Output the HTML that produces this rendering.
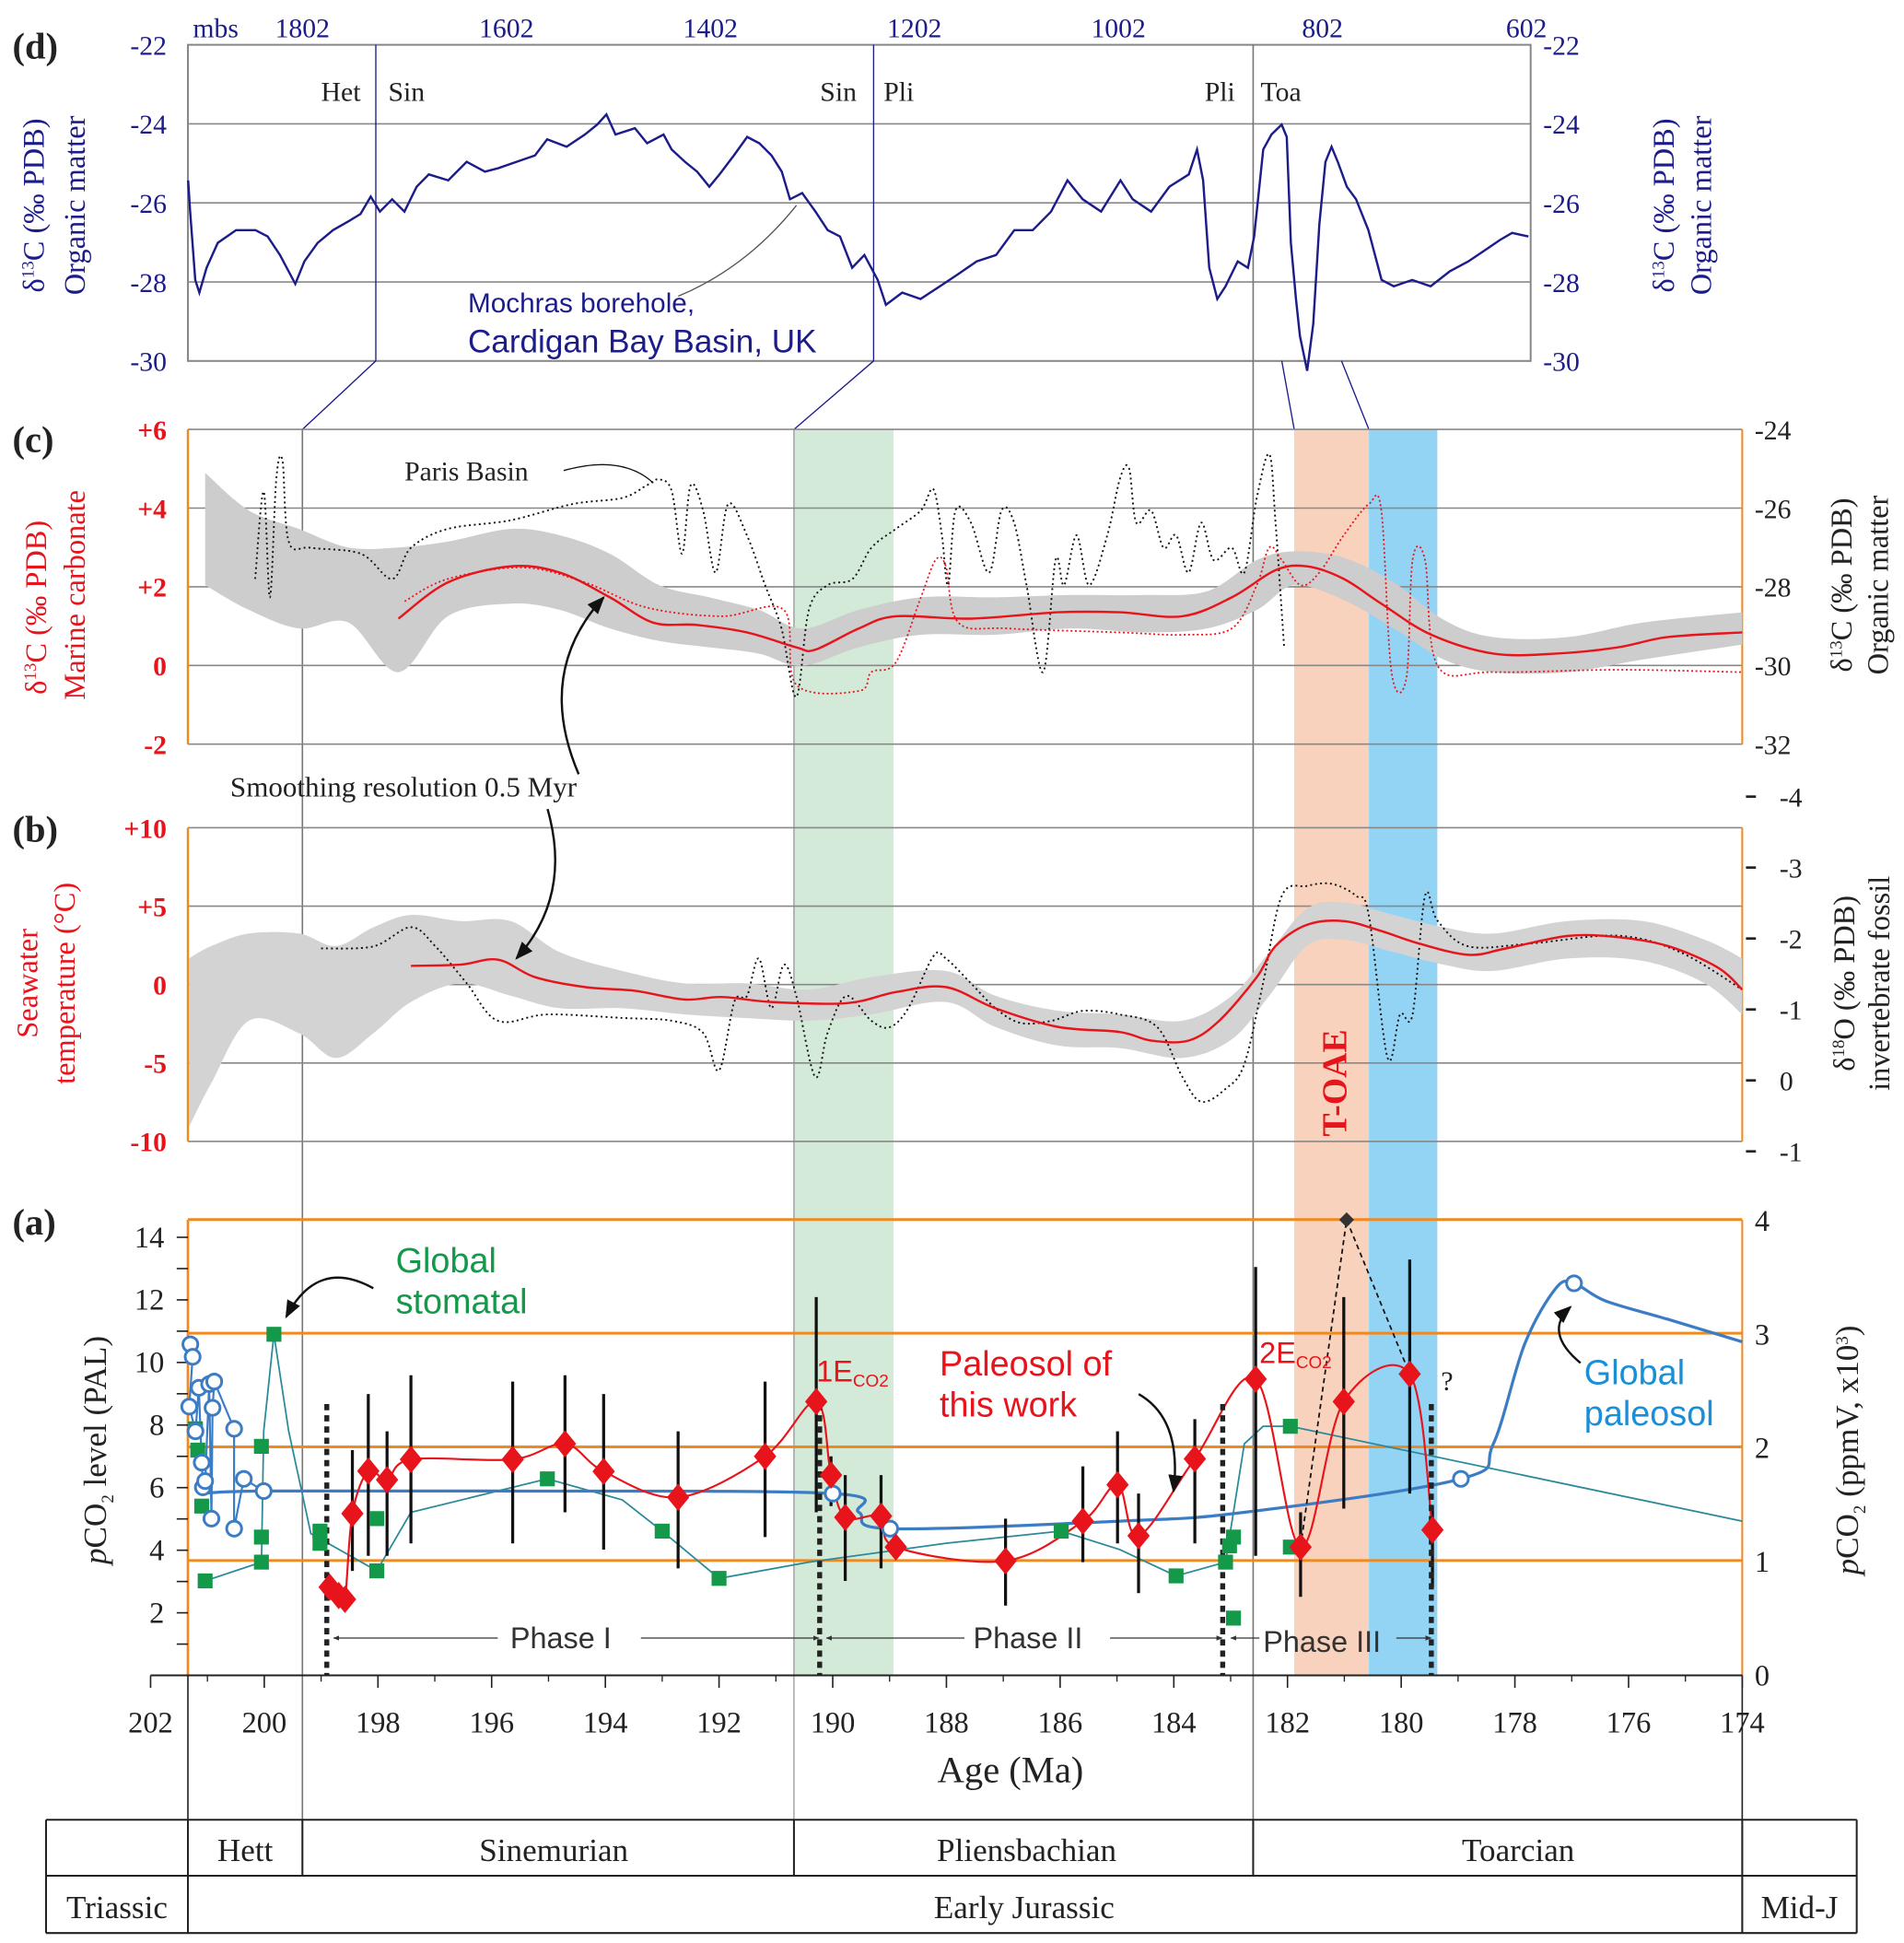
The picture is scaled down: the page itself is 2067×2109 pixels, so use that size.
<!DOCTYPE html>
<html><head><meta charset="utf-8"><style>
html,body{margin:0;padding:0;background:#fff}
svg{display:block}
.sf{font-family:"Liberation Serif",serif}
.ss{font-family:"Liberation Sans",sans-serif}
</style></head><body>
<svg id="fig" xmlns="http://www.w3.org/2000/svg" width="2067" height="2109" viewBox="0 0 1530 1561" preserveAspectRatio="none">
<defs>
<marker id="ah" viewBox="0 0 10 10" refX="9" refY="5" markerWidth="8" markerHeight="8" orient="auto"><path d="M0,1 L10,5 L0,9 z" fill="#111"/></marker>
<marker id="ahs" viewBox="0 0 10 10" refX="9" refY="5" markerWidth="5" markerHeight="5" orient="auto"><path d="M0,1 L10,5 L0,9 z" fill="#333"/></marker>
<clipPath id="clipCB"><rect x="151" y="330" width="1249" height="610"/></clipPath>
</defs>
<g id="bands"></g>
<g id="grid"></g>
<g id="series"></g>
<g id="labels"></g>
</svg>
<script>
// ---------- DATA ----------
const dDepth=[1914,1912,1907,1903,1896,1885,1867,1848,1836,1824,1809,1800,1787,1772,1757,1745,1735,1726,1714,1702,1690,1678,1659,1641,1623,1610,1592,1574,1562,1543,1525,1513,1504,1495,1476,1464,1448,1440,1427,1415,1403,1393,1379,1366,1354,1342,1332,1324,1312,1299,1287,1275,1263,1251,1238,1230,1214,1196,1177,1159,1141,1122,1104,1086,1068,1052,1037,1019,1000,988,970,952,933,925,919,913,905,897,885,875,869,860,852,842,837,833,828,824,817,811,805,799,793,787,778,769,757,744,732,714,696,677,659,641,628,616,600];
const dD13C=[-25.43,-26.22,-27.95,-28.27,-27.64,-27.01,-26.69,-26.69,-26.85,-27.32,-28.05,-27.48,-27.01,-26.69,-26.47,-26.28,-25.84,-26.22,-25.91,-26.22,-25.59,-25.28,-25.43,-24.96,-25.21,-25.12,-24.96,-24.80,-24.39,-24.58,-24.27,-24.02,-23.76,-24.27,-24.11,-24.49,-24.27,-24.65,-24.96,-25.21,-25.59,-25.28,-24.80,-24.33,-24.49,-24.80,-25.21,-25.91,-25.75,-26.22,-26.69,-26.85,-27.64,-27.32,-27.95,-28.58,-28.27,-28.43,-28.11,-27.80,-27.48,-27.32,-26.69,-26.69,-26.22,-25.43,-25.91,-26.22,-25.43,-25.91,-26.22,-25.59,-25.28,-24.65,-25.43,-27.64,-28.43,-28.11,-27.48,-27.64,-26.85,-24.65,-24.27,-24.02,-24.33,-27.01,-28.43,-29.37,-30.25,-29.06,-26.54,-24.96,-24.58,-24.96,-25.59,-25.91,-26.69,-27.95,-28.11,-27.95,-28.11,-27.73,-27.48,-27.17,-26.94,-26.76,-26.85];
const dTopTicks=[1802,1602,1402,1202,1002,802,602];
const dYTicks=[-22,-24,-26,-28,-30];
const cRedAge=[197.64,196.77,195.67,194.80,193.92,193.16,192.39,191.51,190.64,190.31,189.54,188.89,187.57,186.04,184.95,183.85,182.98,182.21,181.66,181.01,180.35,179.47,178.38,177.28,176.19,175.31,174.0];
const cRedVal=[1.19,2.11,2.52,2.36,1.73,1.09,1.03,0.84,0.46,0.40,0.94,1.25,1.19,1.35,1.35,1.25,1.73,2.42,2.52,2.20,1.57,0.78,0.30,0.30,0.46,0.72,0.84];
const cBandAge=[201.04,200.27,199.39,198.52,197.64,196.77,195.67,194.80,193.92,193.05,192.17,191.30,190.53,189.54,188.45,187.14,185.82,184.51,183.41,182.54,181.88,181.01,180.13,179.25,178.38,177.07,175.75,174.0];
const cBandHi=[4.9,3.94,3.47,3.0,3.0,3.15,3.47,3.31,2.84,2.04,1.73,1.41,0.94,1.41,1.73,1.73,1.79,1.79,1.89,2.68,2.90,2.74,2.11,1.16,0.72,0.72,1.09,1.35];
const cBandLo=[2.04,1.41,0.94,1.09,-0.17,1.25,1.57,1.41,0.94,0.62,0.46,0.30,-0.01,0.46,0.78,0.78,0.94,0.84,0.94,1.41,2.04,1.66,0.94,0.15,-0.17,-0.17,0.15,0.53];
const cDotAge=[197.53,196.77,195.45,194.36,193.27,191.95,190.86,190.64,189.54,189.32,188.89,188.45,188.19,188.01,187.79,186.92,184.95,183.85,182.98,182.54,182.32,182.10,181.77,181.44,181.01,180.57,180.35,180.17,179.91,179.80,179.58,179.36,178.38,176.19,174.0];
const cDotVal=[1.63,2.20,2.49,2.11,1.47,1.25,1.41,-0.49,-0.65,-0.17,0.08,1.73,2.68,2.52,1.09,0.94,0.84,0.78,0.94,2.04,3.0,2.68,2.04,2.36,3.31,4.10,3.94,-0.17,-0.33,2.68,2.68,-0.01,-0.17,-0.11,-0.17];
const cParisAge=[200.16,200.01,199.90,199.79,199.68,199.57,199.18,198.30,197.75,197.42,196.77,195.67,194.58,193.70,193.27,193.05,192.83,192.65,192.50,192.28,192.06,191.84,191.51,191.19,190.90,190.64,190.42,190.09,189.65,189.32,188.89,188.45,188.23,188.08,187.97,187.84,187.57,187.25,187.03,186.81,186.59,186.30,186.08,185.93,185.71,185.49,185.17,184.95,184.79,184.66,184.40,184.18,183.96,183.74,183.52,183.30,182.98,182.76,182.54,182.32,182.21,182.06];
const cParisVal=[-27.80,-25.58,-28.27,-25.27,-24.79,-26.85,-27.01,-27.16,-27.80,-27.01,-26.53,-26.31,-25.90,-25.74,-25.42,-25.27,-25.58,-27.16,-25.42,-26.06,-27.64,-25.90,-26.69,-27.96,-29.06,-30.80,-28.59,-27.96,-27.80,-27.01,-26.53,-26.06,-25.52,-26.69,-27.96,-26.06,-26.37,-27.64,-26.06,-26.37,-27.96,-30.17,-27.32,-27.96,-26.69,-27.96,-26.69,-25.27,-24.98,-26.37,-26.06,-27.01,-26.69,-27.64,-26.37,-27.32,-27.01,-27.64,-25.74,-24.63,-26.37,-29.54];
const cLeftTicks=[6,4,2,0,-2];
const cRightTicks=[-24,-26,-28,-30,-32];
const bRedAge=[197.42,196.55,195.89,195.24,194.36,193.48,192.61,191.95,191.08,189.76,188.89,188.01,187.14,186.04,184.95,184.40,183.74,183.20,182.54,182.21,181.66,181.01,180.35,179.69,178.82,178.16,177.07,176.19,175.31,174.44,174.0];
const bRedVal=[1.19,1.27,1.59,0.48,-0.16,-0.40,-0.95,-0.79,-1.11,-1.19,-0.48,-0.16,-1.51,-2.70,-3.02,-3.57,-3.57,-2.30,0.48,2.46,3.81,4.05,3.41,2.62,1.90,2.30,3.10,3.02,2.46,1.11,-0.32];
const bBandAge=[201.32,200.93,200.27,199.39,198.74,198.08,197.42,196.55,195.67,194.80,193.70,192.61,191.51,190.42,189.32,188.01,187.14,186.04,184.95,183.85,182.98,182.32,181.66,181.01,180.13,179.25,178.38,177.07,175.75,174.66,174.0];
const bBandHi=[1.67,2.46,3.25,3.25,2.46,3.65,4.44,4.05,4.05,2.06,0.87,0.08,0.08,-0.32,0.48,0.87,-0.71,-1.67,-1.90,-2.30,-0.71,2.06,4.84,5.24,4.44,3.65,3.25,4.05,4.05,2.86,1.67];
const bBandLo=[-9.05,-6.27,-2.30,-3.10,-4.68,-3.10,-1.11,0.08,-0.71,-1.51,-1.51,-1.90,-2.14,-2.30,-1.90,-1.11,-2.70,-3.89,-4.05,-4.68,-3.49,-0.71,2.46,2.86,2.06,1.27,0.87,1.67,1.51,0.08,-1.90];
const bDotAge=[199.0,198.08,197.42,196.99,196.44,195.89,195.02,193.70,192.83,192.28,192.0,191.73,191.51,191.30,191.08,190.86,190.64,190.31,190.09,189.76,189.32,189.0,188.67,188.23,188.01,187.57,187.14,186.70,186.15,185.60,184.95,184.29,183.85,183.52,183.09,182.76,182.43,182.10,181.66,181.22,180.79,180.57,180.24,180.02,179.80,179.58,179.36,178.82,177.72,176.19,175.10,174.0];
const bDotVal=[-1.86,-1.89,-2.16,-1.89,-1.37,-0.84,-0.93,-0.88,-0.84,-0.67,-0.14,-1.11,-1.19,-1.72,-1.02,-1.63,-1.19,-0.05,-0.67,-1.19,-0.84,-0.75,-1.02,-1.75,-1.72,-1.37,-1.02,-0.81,-0.84,-0.98,-0.93,-0.75,-0.05,0.30,0.12,-0.23,-1.37,-2.60,-2.74,-2.77,-2.60,-2.33,-0.32,-0.93,-0.93,-2.60,-2.25,-1.89,-1.93,-2.04,-1.81,-1.28];
const bLeftTicks=[10,5,0,-5,-10];
const bLeftLabels=["+10","+5","0","-5","-10"];
const bRightTicks=[-4,-3,-2,-1,0,1];
const bRightLabels=["-4","-3","-2","-1","0","-1"];
const aRedAge=[198.85,198.69,198.58,198.45,198.17,197.84,197.42,195.63,194.71,194.03,192.72,191.19,190.29,190.03,189.78,189.15,188.89,186.96,185.60,184.99,184.62,183.63,182.56,181.77,181.01,179.85,179.45];
const aRedVal=[2.82,2.55,2.43,5.17,6.53,6.25,6.90,6.90,7.40,6.52,5.69,7.00,8.75,6.40,5.05,5.09,4.10,3.66,4.93,6.09,4.46,6.92,9.47,4.10,8.75,9.63,4.65];
const aErrHi=[null,null,null,7.20,8.99,7.80,9.59,9.39,9.59,8.99,7.80,9.39,12.09,7.00,6.40,6.40,null,5.01,6.68,7.80,5.81,8.19,13.05,5.21,12.09,13.29,5.41];
const aErrLo=[null,null,null,3.34,3.82,3.82,4.22,4.22,5.21,4.02,3.42,4.42,5.21,5.41,3.02,3.42,null,2.23,3.62,4.22,2.63,4.22,3.82,2.51,5.33,5.81,2.82];
const aStomAge=[201.21,201.17,201.10,201.04,200.05,200.05,200.05,199.83,199.02,199.02,198.02,198.02,195.02,193.0,192.0,185.98,183.96,183.09,183.02,182.95,182.95,181.95,181.95];
const aStomVal=[7.88,7.20,5.41,3.02,3.62,4.42,7.32,10.90,4.61,4.22,5.01,3.34,6.28,4.61,3.10,4.61,3.18,3.62,4.14,4.42,1.83,7.96,4.10];
const aStomFitAge=[201.04,200.05,200.01,199.83,199.57,199.18,198.02,197.42,195.02,193.70,193.0,192.0,190.42,188.01,185.98,184.95,183.96,183.09,182.76,182.43,181.95,174.0];
const aStomFitVal=[3.02,3.62,7.80,10.90,7.80,4.53,3.34,5.21,6.28,5.61,4.61,3.10,3.62,4.22,4.61,4.02,3.18,3.62,7.40,7.96,7.96,4.93];
const aPaleoAge=[201.30,201.26,201.32,201.21,201.15,201.10,201.08,201.04,200.97,200.93,200.91,200.88,200.53,200.53,200.36,200.01,190.0,188.99,178.95,176.96];
const aPaleoVal=[10.58,10.18,8.59,7.80,9.19,6.80,6.01,6.21,9.31,5.01,8.55,9.39,7.88,4.69,6.28,5.89,5.81,4.69,6.28,12.53];
const aPaleoFitAge=[201.15,200.01,195.89,190.0,189.54,188.99,184.95,182.76,178.95,178.38,177.83,177.28,176.96,176.41,175.31,174.0];
const aPaleoFitVal=[5.81,5.89,5.89,5.81,5.21,4.69,4.93,5.21,6.28,7.40,10.58,12.37,12.53,11.97,11.38,10.66];
const aOutlierAge=[181.77,180.96,179.85];
const aOutlierVal=[4.10,14.56,9.63];
const aLeftTicks=[14,12,10,8,6,4,2];
const aRightTicks=[4,3,2,1,0];
const xTicks=[202,200,198,196,194,192,190,188,186,184,182,180,178,176,174];

const ax=a=>121+(202-a)*45.68;
const dx=d=>243+(1802-d)/1.22;
const dy=v=>36+(-22-v)*31.75;
const cy=v=>345+(6-v)*31.6;
const cyr=v=>345+(-24-v)*31.6;
const by=v=>791-v*12.6;
const byr=v=>868+v*57;
const ay=v=>1346-v*25.14;
const ayr=v=>1345-v*91.3;

const NS="http://www.w3.org/2000/svg";
function mk(parent,tag,attrs,text){const e=document.createElementNS(NS,tag);for(const k in attrs)e.setAttribute(k,attrs[k]);if(text!==undefined)e.textContent=text;document.getElementById(parent).appendChild(e);return e;}
function poly(xs,ys){return xs.map((x,i)=>(i?'L':'M')+x.toFixed(1)+','+ys[i].toFixed(1)).join(' ');}
function spline(xs,ys){let d='M'+xs[0]+','+ys[0];for(let i=0;i<xs.length-1;i++){const x0=xs[Math.max(i-1,0)],y0=ys[Math.max(i-1,0)],x1=xs[i],y1=ys[i],x2=xs[i+1],y2=ys[i+1],x3=xs[Math.min(i+2,xs.length-1)],y3=ys[Math.min(i+2,xs.length-1)];d+=` C${(x1+(x2-x0)/6).toFixed(1)},${(y1+(y2-y0)/6).toFixed(1)} ${(x2-(x3-x1)/6).toFixed(1)},${(y2-(y3-y1)/6).toFixed(1)} ${x2.toFixed(1)},${y2.toFixed(1)}`;}return d;}
function txt(x,y,s,cls,size,fill,anchor,extra){const e=mk('labels','text',Object.assign({x:x,y:y,class:cls,'font-size':size,fill:fill,'text-anchor':anchor||'start'},extra||{}),s);return e;}

const NAVY='#1c1c8a', RED='#e8141c', OR='#f0891e', GR='#888';

let e;
e=mk('bands','rect',{x:638,y:345,width:80,height:1001,fill:'#d3ead8'});

e=mk('bands','rect',{x:1040,y:345,width:60,height:1001,fill:'#f9d2bd'});

e=mk('bands','rect',{x:1100,y:345,width:55,height:1001,fill:'#93d3f3'});


e=mk('grid','rect',{x:151,y:36,width:1079,height:254,fill:'none',stroke:GR,'stroke-width':1.5});

[-24,-26,-28].forEach(v=>{e=mk('grid','line',{x1:151,x2:1230,y1:dy(v),y2:dy(v),stroke:GR,'stroke-width':1.2});});
[[302,36,302,290],[702,36,702,290]].forEach(p=>{e=mk('grid','line',{x1:p[0],y1:p[1],x2:p[2],y2:p[3],stroke:NAVY,'stroke-width':1});});
e=mk('grid','line',{x1:1007,y1:36,x2:1007,y2:1507,stroke:'#777','stroke-width':1.2});
[[302,290,243,345],[702,290,638,345],[1030,290,1040,345],[1078,290,1100,345]].forEach(p=>{e=mk('grid','line',{x1:p[0],y1:p[1],x2:p[2],y2:p[3],stroke:NAVY,'stroke-width':1});});
e=mk('grid','line',{x1:243,y1:345,x2:243,y2:1507,stroke:'#777','stroke-width':1.2});
e=mk('grid','line',{x1:638,y1:345,x2:638,y2:1507,stroke:'#999','stroke-width':1});

[6,4,2,0,-2].forEach(v=>{e=mk('grid','line',{x1:151,x2:1400,y1:cy(v),y2:cy(v),stroke:GR,'stroke-width':1.2});});
e=mk('grid','line',{x1:151,x2:151,y1:345,y2:598,stroke:OR,'stroke-width':1.8});
e=mk('grid','line',{x1:1400,x2:1400,y1:345,y2:598,stroke:OR,'stroke-width':1.5});
[10,5,0,-5,-10].forEach(v=>{e=mk('grid','line',{x1:151,x2:1400,y1:by(v),y2:by(v),stroke:GR,'stroke-width':1.2});});
e=mk('grid','line',{x1:151,x2:151,y1:665,y2:917,stroke:OR,'stroke-width':1.8});
e=mk('grid','line',{x1:1400,x2:1400,y1:665,y2:917,stroke:OR,'stroke-width':1.5});

[4,3,2,1].forEach(v=>{e=mk('grid','line',{x1:151,x2:1400,y1:ayr(v),y2:ayr(v),stroke:OR,'stroke-width':2.2});});
e=mk('grid','line',{x1:151,x2:151,y1:980,y2:1346,stroke:OR,'stroke-width':2});
e=mk('grid','line',{x1:1400,x2:1400,y1:980,y2:1346,stroke:OR,'stroke-width':1.5});
e=mk('grid','line',{x1:121,x2:1400,y1:1346,y2:1346,stroke:'#222','stroke-width':1.5});
e=mk('grid','line',{x1:151,x2:151,y1:1346,y2:1553,stroke:'#222','stroke-width':1.2});
e=mk('grid','line',{x1:1400,x2:1400,y1:1346,y2:1553,stroke:'#222','stroke-width':1.2});
for(let v=1;v<=14;v++){e=mk('grid','line',{x1:142,x2:151,y1:ay(v),y2:ay(v),stroke:'#222','stroke-width':1.2});}
xTicks.forEach(a=>{e=mk('grid','line',{x1:ax(a),x2:ax(a),y1:1346,y2:1356,stroke:'#222','stroke-width':1.2});});
for(let a=201;a>174;a-=2){e=mk('grid','line',{x1:ax(a),x2:ax(a),y1:1346,y2:1351,stroke:'#222','stroke-width':1});}

e=mk('series','path',{d:poly(dDepth.map(dx),dD13C.map(dy)),fill:'none',stroke:NAVY,'stroke-width':1.8});

const gC=mk('series','g',{'clip-path':'url(#clipCB)'});

function add(g,tag,attrs,name){const el=document.createElementNS(NS,tag);for(const k in attrs)el.setAttribute(k,attrs[k]);g.appendChild(el);return el;}
{const xs=cBandAge.map(ax);const hi=cBandHi.map(cy),lo=cBandLo.map(cy);
add(gC,'path',{d:spline(xs,hi)+' L'+spline(xs.slice().reverse(),lo.slice().reverse()).slice(1)+' Z',fill:'#cdcdcd',stroke:'none'},'panel-c-gray-envelope');}
add(gC,'path',{d:spline(cParisAge.map(ax),cParisVal.map(cyr)),fill:'none',stroke:'#111','stroke-width':1.4,'stroke-dasharray':'1.5,2.5'},'paris-basin-dotted');
add(gC,'path',{d:spline(cDotAge.map(ax),cDotVal.map(cy)),fill:'none',stroke:RED,'stroke-width':1.3,'stroke-dasharray':'1.5,2'},'marine-carbonate-dotted');
add(gC,'path',{d:spline(cRedAge.map(ax),cRedVal.map(cy)),fill:'none',stroke:RED,'stroke-width':1.8},'marine-carbonate-smooth');
const gB=mk('series','g',{'clip-path':'url(#clipCB)'});

{const xs=bBandAge.map(ax);const hi=bBandHi.map(by),lo=bBandLo.map(by);
add(gB,'path',{d:spline(xs,hi)+' L'+spline(xs.slice().reverse(),lo.slice().reverse()).slice(1)+' Z',fill:'#d3d3d3',stroke:'none'},'panel-b-gray-envelope');}
add(gB,'path',{d:spline(bDotAge.map(ax),bDotVal.map(byr)),fill:'none',stroke:'#111','stroke-width':1.4,'stroke-dasharray':'1.5,2.5'},'d18o-dotted');
add(gB,'path',{d:spline(bRedAge.map(ax),bRedVal.map(by)),fill:'none',stroke:RED,'stroke-width':1.8},'seawater-temp-smooth');
e=mk('series','path',{d:poly(aStomFitAge.map(ax),aStomFitVal.map(ay)),fill:'none',stroke:'#2a8a9a','stroke-width':1.3});

e=mk('series','path',{d:poly(aPaleoAge.slice(0,16).map(ax),aPaleoVal.slice(0,16).map(ay)),fill:'none',stroke:'#3b7cc4','stroke-width':1.6});

e=mk('series','path',{d:spline(aPaleoFitAge.map(ax),aPaleoFitVal.map(ay)),fill:'none',stroke:'#3b7cc4','stroke-width':2.4});

e=mk('series','path',{d:poly(aOutlierAge.map(ax),aOutlierVal.map(ay)),fill:'none',stroke:'#111','stroke-width':1.3,'stroke-dasharray':'4,3'});

{const a=ax(aOutlierAge[1]),b=ay(aOutlierVal[1]);e=mk('series','path',{d:`M${a},${b-6} L${a+6},${b} L${a},${b+6} L${a-6},${b} Z`,fill:'#333'});}
aRedAge.forEach((a,i)=>{if(aErrHi[i]!==null){e=mk('series','line',{x1:ax(a),x2:ax(a),y1:ay(aErrHi[i]),y2:ay(aErrLo[i]),stroke:'#111','stroke-width':2.4});}});
e=mk('series','path',{d:spline(aRedAge.map(ax),aRedVal.map(ay)),fill:'none',stroke:RED,'stroke-width':1.6});

[198.9,190.23,183.14,179.47].forEach(a=>{e=mk('series','line',{x1:ax(a),x2:ax(a),y1:1128,y2:1346,stroke:'#222','stroke-width':4,'stroke-dasharray':'5,4'});});
aStomAge.forEach((a,i)=>{e=mk('series','rect',{x:ax(a)-6,y:ay(aStomVal[i])-6,width:12,height:12,fill:'#14994a'});});
aPaleoAge.forEach((a,i)=>{e=mk('series','circle',{cx:ax(a),cy:ay(aPaleoVal[i]),r:6,fill:'#fff',stroke:'#3b7cc4','stroke-width':2.2});});
aRedAge.forEach((a,i)=>{const x=ax(a),y=ay(aRedVal[i]);e=mk('series','path',{d:`M${x},${y-11} L${x+9},${y} L${x},${y+11} L${x-9},${y} Z`,fill:RED});});

dTopTicks.forEach(t=>{e=txt(dx(t),30,String(t),'sf',22,NAVY,'middle');});
e=txt(155,30,'mbs','sf',22,NAVY);
dYTicks.forEach(t=>{e=txt(134,dy(t)+8,String(t),'sf',22,NAVY,'end');
e=txt(1240,dy(t)+8,String(t),'sf',22,NAVY);});
cLeftTicks.forEach(t=>{e=txt(134,cy(t)+8,(t>0?'+':'')+t,'sf',22,RED,'end',{'font-weight':'bold'});});
cRightTicks.forEach(t=>{e=txt(1410,cyr(t)+8,String(t),'sf',22,'#222');});
bLeftTicks.forEach((t,i)=>{e=txt(134,by(t)+8,bLeftLabels[i],'sf',22,RED,'end',{'font-weight':'bold'});});
bRightTicks.forEach((t,i)=>{e=txt(1430,byr(t)+8,bRightLabels[i],'sf',22,'#222');
e=mk('labels','line',{x1:1403,x2:1411,y1:byr(t),y2:byr(t),stroke:'#222','stroke-width':2});});
aLeftTicks.forEach(t=>{e=txt(132,ay(t)+8,String(t),'sf',24,'#222','end');});
aRightTicks.forEach(t=>{e=txt(1410,ayr(t)+9,String(t),'sf',24,'#222');});
xTicks.forEach(t=>{e=txt(ax(t),1392,String(t),'sf',24,'#222','middle');});
</script>
<script>
const L='labels';
function T(x,y,s,o){const e=document.createElementNS("http://www.w3.org/2000/svg",'text');e.setAttribute('x',x);e.setAttribute('y',y);for(const k in o)e.setAttribute(k,o[k]);e.innerHTML=s;document.getElementById(L).appendChild(e);return e;}
let t;
t=T(10,47,'(d)',{class:'sf','font-size':30,'font-weight':'bold',fill:'#222'});
t=T(10,363,'(c)',{class:'sf','font-size':30,'font-weight':'bold',fill:'#222'});
t=T(10,676,'(b)',{class:'sf','font-size':30,'font-weight':'bold',fill:'#222'});
t=T(10,992,'(a)',{class:'sf','font-size':30,'font-weight':'bold',fill:'#222'});
[[258,'Het'],[312,'Sin'],[659,'Sin'],[710,'Pli'],[968,'Pli'],[1013,'Toa']].forEach(p=>{t=T(p[0],81,p[1],{class:'sf','font-size':22,fill:'#222'});});
t=T(376,251,'Mochras borehole,',{class:'ss','font-size':22,fill:NAVY});
t=T(376,283,'Cardigan Bay Basin, UK',{class:'ss','font-size':26,fill:NAVY});
t=document.createElementNS("http://www.w3.org/2000/svg",'path');t.setAttribute('d','M545,238 Q600,215 640,165');t.setAttribute('fill','none');t.setAttribute('stroke','#555');t.setAttribute('stroke-width','1');document.getElementById(L).appendChild(t);

function R(x,y,s,size,fill,name){const e=T(x,y,s,{class:'sf','font-size':size,fill:fill,'text-anchor':'middle',transform:`rotate(-90 ${x} ${y})`});return e;}
R(35,165,'δ<tspan font-size="14" dy="-8">13</tspan><tspan dy="8">C (‰ PDB)</tspan>',24,NAVY,'d-left-axis-title');
R(68,165,'Organic matter',24,NAVY,'d-left-axis-title-2');
R(1345,165,'δ<tspan font-size="14" dy="-8">13</tspan><tspan dy="8">C (‰ PDB)</tspan>',24,NAVY,'d-right-axis-title');
R(1375,165,'Organic matter',24,NAVY,'d-right-axis-title-2');
R(37,488,'δ<tspan font-size="14" dy="-8">13</tspan><tspan dy="8">C (‰ PDB)</tspan>',24,RED,'c-left-axis-title');
R(68,478,'Marine carbonate',24,RED,'c-left-axis-title-2');
R(1488,470,'δ<tspan font-size="14" dy="-8">13</tspan><tspan dy="8">C (‰ PDB)</tspan>',24,'#222','c-right-axis-title');
R(1517,470,'Organic matter',24,'#222','c-right-axis-title-2');
R(30,790,'Seawater',24,RED,'b-left-axis-title');
R(60,790,'temperature (°C)',24,RED,'b-left-axis-title-2');
R(1490,790,'δ<tspan font-size="14" dy="-8">18</tspan><tspan dy="8">O (‰ PDB)</tspan>',24,'#222','b-right-axis-title');
R(1518,790,'invertebrate fossil',24,'#222','b-right-axis-title-2');
R(85,1165,'<tspan font-style="italic">p</tspan>CO<tspan font-size="14" dy="6">2</tspan><tspan dy="-6"> level (PAL)</tspan>',26,'#222','a-left-axis-title');
R(1493,1165,'<tspan font-style="italic">p</tspan>CO<tspan font-size="14" dy="6">2</tspan><tspan dy="-6">  (ppmV, x10</tspan><tspan font-size="14" dy="-8">3</tspan><tspan dy="8">)</tspan>',26,'#222','a-right-axis-title');
t=T(812,1432,'Age (Ma)',{class:'sf','font-size':30,fill:'#222','text-anchor':'middle'});
t=T(325,386,'Paris Basin',{class:'sf','font-size':22,fill:'#222'});
function P(d,name,arrow){const e=document.createElementNS("http://www.w3.org/2000/svg",'path');e.setAttribute('d',d);e.setAttribute('fill','none');e.setAttribute('stroke','#111');e.setAttribute('stroke-width',arrow?'1.8':'1');if(arrow)e.setAttribute('marker-end','url(#ah)');document.getElementById(L).appendChild(e);}
P('M453,378 Q500,365 525,388','paris-basin-leader');
t=T(185,640,'Smoothing resolution 0.5 Myr',{class:'sf','font-size':23,fill:'#222'});
P('M465,622 Q430,540 485,480','smoothing-arrow-c',true);
P('M440,650 Q460,720 415,770','smoothing-arrow-b',true);
t=T(1082,870,'T-OAE',{class:'sf','font-size':28,'font-weight':'bold',fill:RED,'text-anchor':'middle',transform:'rotate(-90 1082 870)'});
t=T(318,1022,'Global',{class:'ss','font-size':28,fill:'#14994a'});
t=T(318,1055,'stomatal',{class:'ss','font-size':28,fill:'#14994a'});
P('M300,1035 Q255,1010 230,1058','stomatal-arrow',true);
t=T(656,1110,'1E<tspan font-size="14" dy="4">CO2</tspan>',{class:'ss','font-size':24,fill:RED});
t=T(755,1105,'Paleosol of',{class:'ss','font-size':28,fill:RED});
t=T(755,1138,'this work',{class:'ss','font-size':28,fill:RED});
P('M915,1120 Q950,1140 943,1198','paleosol-arrow',true);
t=T(1012,1095,'2E<tspan font-size="14" dy="4">CO2</tspan>',{class:'ss','font-size':24,fill:RED});
t=T(1158,1117,'?',{class:'sf','font-size':22,fill:'#222'});
t=T(1273,1112,'Global',{class:'ss','font-size':28,fill:'#1a8fd8'});
t=T(1273,1145,'paleosol',{class:'ss','font-size':28,fill:'#1a8fd8'});
P('M1270,1095 Q1240,1070 1262,1050','global-paleosol-arrow',true);
function A(x1,x2,name){const e=document.createElementNS("http://www.w3.org/2000/svg",'line');e.setAttribute('x1',x1);e.setAttribute('x2',x2);e.setAttribute('y1',1316);e.setAttribute('y2',1316);e.setAttribute('stroke','#333');e.setAttribute('stroke-width','1');e.setAttribute('marker-end','url(#ahs)');document.getElementById(L).appendChild(e);}
A(400,268,'phase-i-arrow-left');A(515,658,'phase-i-arrow-right');
A(775,664,'phase-ii-arrow-left');A(892,982,'phase-ii-arrow-right');
A(1012,989,'phase-iii-arrow-left');A(1122,1150,'phase-iii-arrow-right');
t=T(410,1324,'Phase I',{class:'ss','font-size':24,fill:'#333'});
t=T(782,1324,'Phase II',{class:'ss','font-size':24,fill:'#333'});
t=T(1015,1327,'Phase III',{class:'ss','font-size':24,fill:'#333'});
function Ln(x1,y1,x2,y2,name){const e=document.createElementNS("http://www.w3.org/2000/svg",'line');e.setAttribute('x1',x1);e.setAttribute('y1',y1);e.setAttribute('x2',x2);e.setAttribute('y2',y2);e.setAttribute('stroke','#222');e.setAttribute('stroke-width','1.5');document.getElementById(L).appendChild(e);}
Ln(37,1462,1492,1462,'timescale-top');Ln(37,1507,1492,1507,'timescale-middle');Ln(37,1553,1492,1553,'timescale-bottom');
Ln(37,1462,37,1553,'timescale-left');Ln(1492,1462,1492,1553,'timescale-right');
[151,243,638,1007,1400].forEach(x=>Ln(x,1462,x,1507,'stage-divider'));
[151,1400].forEach(x=>Ln(x,1507,x,1553,'epoch-divider'));
[[197,'Hett'],[445,'Sinemurian'],[825,'Pliensbachian'],[1220,'Toarcian']].forEach(p=>{t=T(p[0],1495,p[1],{class:'sf','font-size':26,fill:'#222','text-anchor':'middle'});});
[[94,'Triassic'],[823,'Early Jurassic'],[1446,'Mid-J']].forEach(p=>{t=T(p[0],1541,p[1],{class:'sf','font-size':26,fill:'#222','text-anchor':'middle'});});
</script>
</body></html>
